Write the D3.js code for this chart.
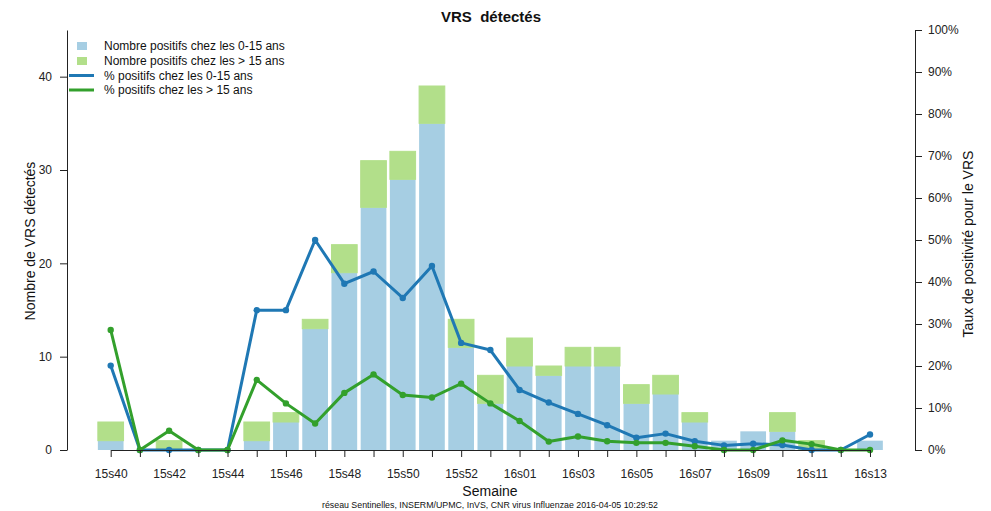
<!DOCTYPE html>
<html>
<head>
<meta charset="utf-8">
<script src="https://cdn.jsdelivr.net/npm/d3@7"></script>
<style>
  body { margin: 0; background: #fff; }
  svg { font-family: "Liberation Sans", Arial, sans-serif; }
</style>
</head>
<body>
<svg id="chart" width="991" height="511"></svg>
<script>
const weeks = ["15s40","15s41","15s42","15s43","15s44","15s45","15s46","15s47","15s48","15s49","15s50","15s51","15s52","15s53",
               "16s01","16s02","16s03","16s04","16s05","16s06","16s07","16s08","16s09","16s10","16s11","16s12","16s13"];
const tickLabels = ["15s40","15s42","15s44","15s46","15s48","15s50","15s52","16s01","16s03","16s05","16s07","16s09","16s11","16s13"];
const pos0to15 = [1,0,0,0,0,1,3,13,19,26,29,35,11,5, 9,8,9,9,5,6,3,1,2,2,0,0,1];
const posOver15 = [2,0,1,0,0,2,1,1,3,5,3,4,3,3, 3,1,2,2,2,2,1,0,0,2,1,0,0];
const pct0to15 = [20.1,0,0,0,0,33.3,33.3,50.0,39.6,42.5,36.2,43.8,25.5,23.8, 14.3,11.3,8.6,5.9,2.9,3.9,2.1,1.1,1.5,1.2,0,0,3.7];
const pctOver15 = [28.6,0,4.6,0,0,16.7,11.1,6.3,13.6,18.0,13.1,12.5,15.8,11.1, 6.9,2.0,3.2,2.1,1.7,1.7,0.9,0,0,2.3,1.4,0,0];
const countTicks = [0,10,20,30,40];
const pctTicks = [0,10,20,30,40,50,60,70,80,90,100];

const colBlueBar = "#a6cee3", colGreenBar = "#b2df8a", colBlue = "#1f78b4", colGreen = "#33a02c";

const svg = d3.select("#chart");
const x = d3.scaleBand().domain(weeks).range([96.1, 884.6]).paddingInner(0.12).paddingOuter(0.06);
const y = d3.scaleLinear().domain([0,45]).range([450,30]);
const yp = d3.scaleLinear().domain([0,100]).range([450,30]);
const cx = w => x(w) + x.bandwidth()/2;

// bars
const g = svg.append("g");
weeks.forEach((w,i) => {
  const b = pos0to15[i], t = b + posOver15[i];
  if (b > 0) g.append("rect").attr("x", x(w)).attr("width", x.bandwidth())
     .attr("y", y(b)).attr("height", y(0)-y(b)).attr("fill", colBlueBar);
  if (t > 0) g.append("rect").attr("x", x(w)).attr("width", x.bandwidth())
     .attr("y", y(t)).attr("height", Math.max(0, y(b)-y(t))).attr("fill", colGreenBar)
     .attr("stroke", colGreenBar).attr("stroke-width", 1);
});

// lines
function drawLine(vals, col) {
  const line = d3.line().x((d,i)=>cx(weeks[i])).y(d=>yp(d));
  svg.append("path").datum(vals).attr("d", line).attr("fill","none")
     .attr("stroke", col).attr("stroke-width", 3).attr("stroke-linejoin","round");
  svg.append("g").selectAll("circle").data(vals).join("circle")
     .attr("cx",(d,i)=>cx(weeks[i])).attr("cy", d=>yp(d)).attr("r", 3.2).attr("fill", col);
}
drawLine(pct0to15, colBlue);
drawLine(pctOver15, colGreen);

// axes
const axisStyle = sel => {
  sel.selectAll("path,line").attr("stroke","#222");
  sel.selectAll("text").attr("font-family","Liberation Sans, Arial, sans-serif").attr("font-size",12).attr("fill","#222");
};
const xa = svg.append("g").attr("transform","translate(0,450)")
  .call(d3.axisBottom(d3.scalePoint().domain(weeks).range([cx(weeks[0]), cx(weeks[weeks.length-1])]))
     .tickValues(weeks).tickSizeInner(7).tickSizeOuter(0).tickPadding(12)
     .tickFormat(d => tickLabels.includes(d) ? d : ""));
axisStyle(xa);

const ya = svg.append("g").attr("transform","translate(67,0)")
  .call(d3.axisLeft(y).tickValues(countTicks).tickSizeInner(7).tickSizeOuter(0).tickPadding(8));
axisStyle(ya);

const yr = svg.append("g").attr("transform","translate(915,0)")
  .call(d3.axisRight(yp).tickValues(pctTicks).tickSizeInner(7).tickSizeOuter(0).tickPadding(6).tickFormat(d=>d+"%"));
axisStyle(yr);

// titles
svg.append("text").attr("x",491).attr("y",22).attr("text-anchor","middle")
  .style("white-space","pre")
  .attr("font-size",15).attr("font-weight","bold").attr("fill","#111").text("VRS  détectés");
svg.append("text").attr("transform","translate(35,241) rotate(-90)").attr("text-anchor","middle")
  .attr("font-size",14).attr("fill","#111").text("Nombre de VRS détectés");
svg.append("text").attr("transform","translate(973,244) rotate(-90)").attr("text-anchor","middle")
  .attr("font-size",14).attr("fill","#111").text("Taux de positivité pour le VRS");
svg.append("text").attr("x",490).attr("y",496).attr("text-anchor","middle")
  .attr("font-size",14).attr("fill","#111").text("Semaine");
svg.append("text").attr("x",490).attr("y",508).attr("text-anchor","middle")
  .attr("font-size",8.8).attr("fill","#111").text("réseau Sentinelles, INSERM/UPMC, InVS, CNR virus Influenzae 2016-04-05 10:29:52");

// legend
const legend = [
  {label:"Nombre positifs chez les 0-15 ans", type:"rect", col:colBlueBar, y:46},
  {label:"Nombre positifs chez les > 15 ans", type:"rect", col:colGreenBar, y:61},
  {label:"% positifs chez les 0-15 ans", type:"line", col:colBlue, y:75.5},
  {label:"% positifs chez les > 15 ans", type:"line", col:colGreen, y:90}
];
const lg = svg.append("g");
legend.forEach(d => {
  if (d.type === "rect") lg.append("rect").attr("x",77).attr("y",d.y-4).attr("width",10).attr("height",8).attr("fill",d.col);
  else lg.append("line").attr("x1",69).attr("x2",94).attr("y1",d.y).attr("y2",d.y).attr("stroke",d.col).attr("stroke-width",3);
  lg.append("text").attr("x",104).attr("y",d.y+4.2).attr("font-size",12).attr("fill","#111").text(d.label);
});
</script>
</body>
</html>
